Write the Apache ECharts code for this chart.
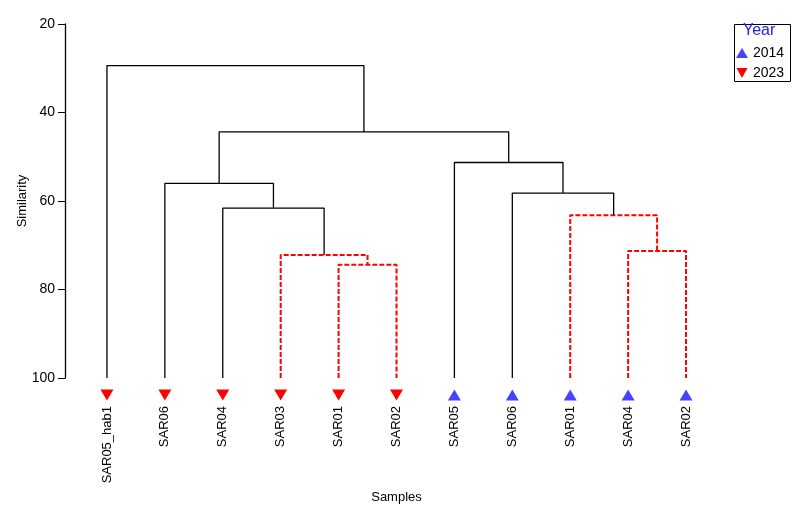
<!DOCTYPE html>
<html>
<head>
<meta charset="utf-8">
<script src="https://cdn.jsdelivr.net/npm/echarts@6/dist/echarts.min.js"></script>
<style>
  html, body { margin: 0; padding: 0; background: #fff; }
  #chart { width: 799px; height: 509px; }
</style>
</head>
<body>
<div id="chart"></div>
<script>
// leaves, left to right
const samples = ['SAR05_hab1', 'SAR06', 'SAR04', 'SAR03', 'SAR01', 'SAR02',
                 'SAR05', 'SAR06', 'SAR01', 'SAR04', 'SAR02'];
const years = ['2023', '2023', '2023', '2023', '2023', '2023',
               '2014', '2014', '2014', '2014', '2014'];

// merges: node ids 0..10 are leaves, merge k gets id 11 + k
const mergeLeft   = [4, 3, 2, 1, 9, 8, 7, 6, 14, 0];
const mergeRight  = [5, 11, 12, 13, 10, 15, 16, 17, 18, 19];
const mergeHeight = [74.4, 72.2, 61.6, 56.0, 71.3, 63.2, 58.2, 51.3, 44.4, 29.4];
const mergeGroup  = ['sig', 'sig', 'ns', 'ns', 'sig', 'sig', 'ns', 'ns', 'ns', 'ns'];

const yTicks = [20, 40, 60, 80, 100];

const chart = echarts.init(document.getElementById('chart'));

// node positions (x = leaf index / mean of children, y = similarity)
const nodeX = samples.map((s, i) => i);
const nodeY = samples.map(() => 100);
mergeLeft.forEach((l, k) => {
  const r = mergeRight[k];
  nodeX.push((nodeX[l] + nodeX[r]) / 2);
  nodeY.push(mergeHeight[k]);
});

const branchSeries = mergeLeft.map((l, k) => {
  const r = mergeRight[k];
  const h = mergeHeight[k];
  const red = mergeGroup[k] === 'sig';
  return {
    type: 'line',
    xAxisIndex: 1,
    symbol: 'none',
    silent: true,
    animation: false,
    lineStyle: red
      ? { color: '#ff0000', width: 2, type: [5, 2] }
      : { color: '#000000', width: 1.3 },
    data: [[nodeX[l], nodeY[l]], [nodeX[l], h], [nodeX[r], h], [nodeX[r], nodeY[r]]]
  };
});

const markerSeries = ['2014', '2023'].map(y => ({
  name: y,
  type: 'scatter',
  xAxisIndex: 0,
  clip: false,
  symbol: 'triangle',
  symbolSize: [13, 11],
  symbolRotate: y === '2023' ? 180 : 0,
  symbolOffset: [0, 17],
  itemStyle: { color: y === '2023' ? '#ff0000' : '#4444ff', opacity: 1 },
  animation: false,
  z: 5,
  data: samples.map((s, i) => years[i] === y ? [i, 100] : null).filter(d => d)
}));

chart.setOption({
  backgroundColor: '#ffffff',
  textStyle: { fontFamily: 'Liberation Sans, Arial, sans-serif' },
  grid: { left: 78, right: 84, top: 24, bottom: 126 },
  xAxis: [
    {
      type: 'category',
      data: samples,
      name: 'Samples',
      nameLocation: 'middle',
      nameGap: 113,
      nameMoveOverlap: false,
      nameTextStyle: { color: '#000', fontSize: 13 },
      axisLine: { show: false },
      axisTick: { show: false },
      axisLabel: { rotate: 90, margin: 28, color: '#000', fontSize: 13, interval: 0 }
    },
    {
      type: 'value',
      min: -0.5,
      max: 10.5,
      show: false
    }
  ],
  yAxis: {
    type: 'value',
    inverse: true,
    min: yTicks[0],
    max: yTicks[yTicks.length - 1],
    interval: 20,
    offset: 13,
    name: 'Similarity',
    nameLocation: 'middle',
    nameGap: 36,
    nameMoveOverlap: false,
    nameTextStyle: { color: '#000', fontSize: 13 },
    axisLine: { show: true, onZero: false, lineStyle: { color: '#000', width: 1.3 } },
    axisTick: { show: true, length: 7, lineStyle: { color: '#000' } },
    axisLabel: { color: '#000', fontSize: 14, margin: 10 },
    splitLine: { show: false }
  },
  legend: {
    orient: 'vertical',
    left: 736,
    top: 45,
    padding: 0,
    itemWidth: 12,
    itemHeight: 10,
    itemGap: 4,
    textStyle: { color: '#000', fontSize: 14, lineHeight: 16, padding: [0, 0, 0, 0] },
    data: [
      { name: '2014', icon: 'triangle' },
      { name: '2023', icon: 'path://M0,0 L10,0 L5,9 Z' }
    ]
  },
  graphic: [
    {
      type: 'rect',
      left: 732, top: 22,
      shape: { width: 56, height: 57 },
      style: { fill: 'none', stroke: '#000', lineWidth: 1 }
    },
    {
      type: 'text',
      left: 743, top: 23,
      style: { text: 'Year', fill: '#2222ee', font: '16px Liberation Sans, Arial, sans-serif' }
    }
  ],
  series: branchSeries.concat(markerSeries)
});
</script>
</body>
</html>
